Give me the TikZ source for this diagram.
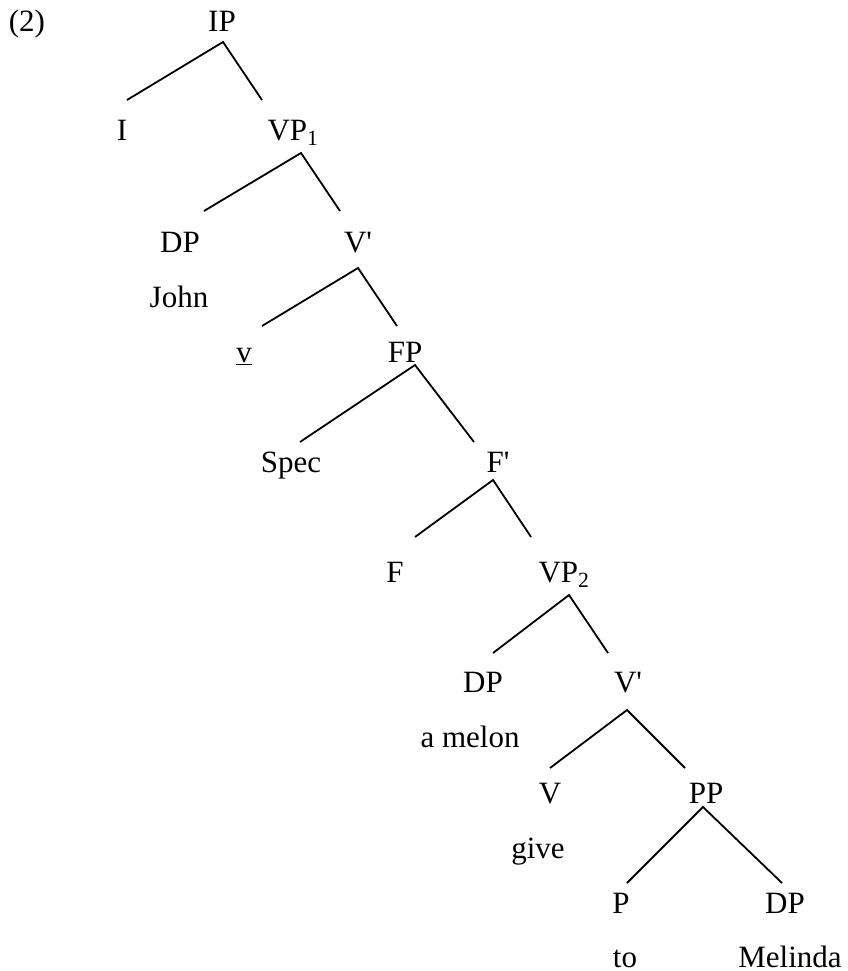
\documentclass[tikz,border=0pt]{standalone}
\usepackage{fontspec}
\setmainfont{Liberation Serif}

\begin{document}
\begin{tikzpicture}[x=1pt, y=-1pt, line width=1.8pt, line join=miter,
    cat/.style={inner sep=0pt, anchor=base, font=\fontsize{31pt}{37pt}\selectfont}]
    \useasboundingbox (0,0) rectangle (847,971);
    \node[cat, anchor=base west] (ex) at (8,32) {(2)};
    % categories, top to bottom
    \node[cat] (IP) at (222,32) {IP};
    \node[cat] (I) at (122,140) {I};
    \node[cat] (VPa) at (293,140) {VP\textsubscript{1}};
    \node[cat] (DPa) at (180,252) {DP};
    \node[cat] (Vbara) at (358,252) {V\textquotesingle};
    \node[cat] (John) at (179,307) {John};
    \node[cat] (vsmall) at (244,362) {\underline{v}};
    \node[cat] (FP) at (405,362) {FP};
    \node[cat] (Spec) at (291,472) {Spec};
    \node[cat] (Fbar) at (498,472) {F\textquotesingle};
    \node[cat] (F) at (395,582) {F};
    \node[cat] (VPb) at (564,582) {VP\textsubscript{2}};
    \node[cat] (DPb) at (483,692) {DP};
    \node[cat] (Vbarb) at (628,692) {V\textquotesingle};
    \node[cat] (melon) at (470,747) {a melon};
    \node[cat] (V) at (550,803) {V};
    \node[cat] (PP) at (706,803) {PP};
    \node[cat] (give) at (538,858) {give};
    \node[cat] (P) at (621,913) {P};
    \node[cat] (DPc) at (785,913) {DP};
    \node[cat] (to) at (625,967) {to};
    \node[cat] (Melinda) at (790,967) {Melinda};
    % branches
    \draw ([shift={(5pt,40pt)}]I.base) -- ([shift={(1pt,-10pt)}]IP.base) -- ([shift={(-31pt,40pt)}]VPa.base);
    \draw ([shift={(24pt,41pt)}]DPa.base) -- ([shift={(8pt,-13pt)}]VPa.base) -- ([shift={(-18pt,41pt)}]Vbara.base);
    \draw ([shift={(18pt,36pt)}]vsmall.base) -- ([shift={(0pt,-16pt)}]Vbara.base) -- ([shift={(-8pt,36pt)}]FP.base);
    \draw ([shift={(9pt,30pt)}]Spec.base) -- ([shift={(10pt,-3pt)}]FP.base) -- ([shift={(-24pt,30pt)}]Fbar.base);
    \draw ([shift={(20pt,45pt)}]F.base) -- ([shift={(-5pt,-8pt)}]Fbar.base) -- ([shift={(-33pt,45pt)}]VPb.base);
    \draw ([shift={(10pt,39pt)}]DPb.base) -- ([shift={(5pt,-13pt)}]VPb.base) -- ([shift={(-20pt,39pt)}]Vbarb.base);
    \draw ([shift={(0pt,35pt)}]V.base) -- ([shift={(-1pt,-18pt)}]Vbarb.base) -- ([shift={(-21pt,35pt)}]PP.base);
    \draw ([shift={(6pt,30pt)}]P.base) -- ([shift={(-3pt,-4pt)}]PP.base) -- ([shift={(-3pt,30pt)}]DPc.base);
\end{tikzpicture}
\end{document}
